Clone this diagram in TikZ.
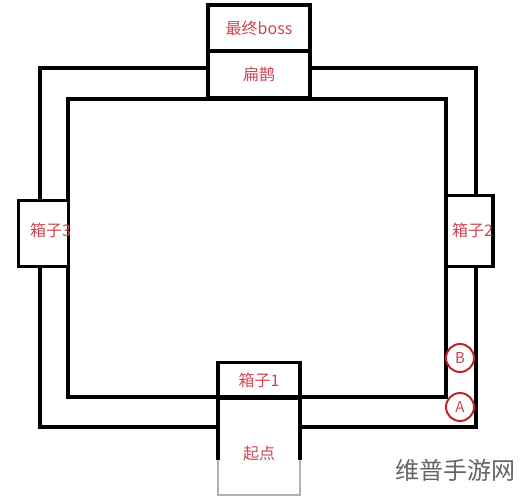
\documentclass[tikz,border=0pt]{standalone}
\usepackage{fontspec}
\newfontfamily\cjk{Noto Sans CJK SC}
\definecolor{labelred}{RGB}{205,70,80}
\definecolor{ringred}{RGB}{185,38,45}
\definecolor{markgray}{RGB}{100,100,100}
\begin{document}
\begin{tikzpicture}[x=1pt,y=-1pt,
  wall/.style={line width=3.1pt},
  room/.style={draw, line width=3.1pt, fill=white, inner sep=0pt, outer sep=0pt, font=\cjk\fontsize{16}{16}\selectfont, text=labelred},
  roomtext/.style={font=\cjk\fontsize{16}{16}\selectfont, text=labelred},
  ring/.style={circle, draw=ringred, line width=2pt, fill=white, minimum size=28pt, inner sep=0pt, font=\cjk\fontsize{15}{15}\selectfont, text=labelred}]
\useasboundingbox (0,0) rectangle (521,500);
% the two walls of the corridor
\draw[wall] (40,68) rectangle (476,427);
\draw[wall] (68,99) rectangle (446,397);
% top
\node[room, minimum width=102pt, minimum height=46pt] (boss) at (259,28) {最终boss};
\node[room, minimum width=102pt, minimum height=47pt] (bianque) at (259,74.5) {扁鹊};
\draw[line width=4.5pt] (bianque.south west) -- (bianque.south east);
% sides
\node[room, minimum width=50pt, minimum height=66pt, label={[roomtext, xshift=7pt, yshift=3pt]center:箱子3}] (box3) at (43.5,233.5) {};
\node[room, minimum width=47pt, minimum height=71pt, label={[roomtext, xshift=3pt, yshift=1pt]center:箱子2}] (box2) at (469.5,231) {};
% bottom
\node[room, minimum width=82pt, minimum height=35pt] (box1) at (259,380) {箱子1};
\node[fill=white, minimum width=80pt, minimum height=94pt, inner sep=0pt] (start) at (259,448) {};
\node[roomtext] (starttext) at (259,453) {起点};
\coordinate (sw) at (218,460);
\coordinate (se) at (300,460);
\draw[wall] (box1.south west) -- (sw);
\draw[wall] (box1.south east) -- (se);
\draw[line width=2.6pt, color=black!30] (sw) -- (218,495) -- (300,495) -- (se);
\draw[line width=5pt] (box1.south west) -- (box1.south east);
% marks
\node[ring] (ringb) at (460,358) {B};
\node[ring] (ringa) at (460,407) {A};
\node[font=\cjk\fontsize{24}{24}\selectfont, text=markgray] (mark) at (455,470) {维普手游网};
\end{tikzpicture}
\end{document}
